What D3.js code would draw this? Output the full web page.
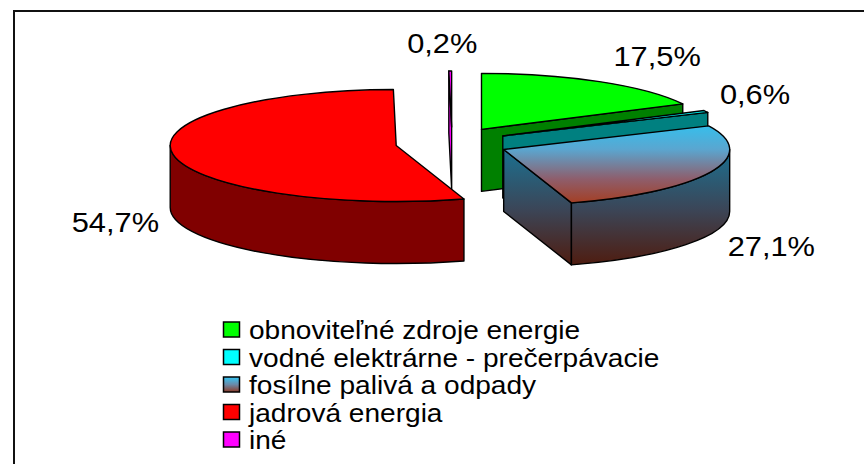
<!DOCTYPE html>
<html><head><meta charset="utf-8">
<script src="https://cdn.jsdelivr.net/npm/d3@7"></script>
<style>html,body{margin:0;padding:0;background:#fff;} svg{display:block;}</style>
</head><body>
<svg id="chart" width="864" height="464"></svg>
<script>
// ---- data ----
const categories = ["obnoviteľné zdroje energie", "vodné elektrárne - prečerpávacie", "fosílne palivá a odpady", "jadrová energia", "iné"];
const values = [17.5, 0.6, 27.1, 54.7, 0.2];
const valueLabels = ["17,5%", "0,6%", "27,1%", "54,7%", "0,2%"];

// ---- styles ----
const topColor = d3.scaleOrdinal().domain(categories).range(["#00FF00", "#00FFFF", "url(#fosTop)", "#FF0000", "#FF00FF"]);
const sideColor = d3.scaleOrdinal().domain(categories).range(["#008000", "#008080", "url(#fosSide)", "#800000", "#FF00FF"]);
const legendColor = d3.scaleOrdinal().domain(categories).range(["#00FF00", "#00FFFF", "url(#fosLeg)", "#FF0000", "#FF00FF"]);

const svg = d3.select("#chart");
const FONT = "'Liberation Sans', Arial, sans-serif";

const defs = svg.append("defs");
function vgrad(id, units, y1, y2, stops) {
  const g = defs.append("linearGradient").attr("id", id).attr("gradientUnits", units)
    .attr("x1", 0).attr("x2", 0).attr("y1", y1).attr("y2", y2);
  stops.forEach(s => g.append("stop").attr("offset", s[0]).attr("stop-color", s[1]));
}
vgrad("fosTop", "userSpaceOnUse", 112, 205, [[0, "#22CCFB"], [0.4, "#5AA6D0"], [0.72, "#8E5E6C"], [1, "#A63C1E"]]);
vgrad("fosSide", "userSpaceOnUse", 150, 268, [[0, "#1B7090"], [0.5, "#3B4658"], [1, "#501A0C"]]);
vgrad("fosLeg", "objectBoundingBox", 0, 1, [[0, "#33C8F6"], [0.5, "#6A8AA8"], [1, "#8E3A26"]]);

// frame
svg.append("rect").attr("x", 14).attr("y", 11).attr("width", 880).attr("height", 480)
  .attr("fill", "#fff").attr("stroke", "#111").attr("stroke-width", 2);

// ---- 3D pie geometry ----
const cx = 452, cy = 143, rx = 226, ry = 56, depth = 62, exX = 56.5, exY = 16;
const arcs = d3.pie().sort(null).value(d => d)(values).map((p, i) => {
  const mid = (p.startAngle + p.endAngle) / 2;
  return {
    i, cat: categories[i], label: valueLabels[i],
    a0: p.startAngle, a1: p.endAngle, mid,
    c: [cx + Math.sin(mid) * exX, cy - Math.cos(mid) * exY]
  };
});
const pt = (c, a, dy = 0) => [c[0] + rx * Math.sin(a), c[1] - ry * Math.cos(a) + dy];
const f = p => p[0].toFixed(2) + "," + p[1].toFixed(2);

const pieG = svg.append("g");
const order = arcs.slice().sort((a, b) => a.c[1] - b.c[1]);

order.forEach(d => {
  const g = pieG.append("g");
  const c = d.c, cd = [c[0], c[1] + depth];
  // radial faces
  const faces = [];
  if (Math.sin(d.a0) < -1e-6) faces.push(d.a0);
  if (Math.sin(d.a1) > 1e-6) faces.push(d.a1);
  faces.forEach(a => {
    g.append("path")
      .attr("d", `M${f(c)}L${f(pt(c, a))}L${f(pt(c, a, depth))}L${f(cd)}Z`)
      .attr("fill", sideColor(d.cat)).attr("stroke", "#000").attr("stroke-width", 1.4)
      .attr("stroke-linejoin", "round");
  });
  // outer curved side
  const b0 = Math.max(d.a0, Math.PI / 2), b1 = Math.min(d.a1, 3 * Math.PI / 2);
  if (b1 > b0) {
    g.append("path")
      .attr("d", `M${f(pt(c, b0))}A${rx},${ry} 0 0 1 ${f(pt(c, b1))}L${f(pt(c, b1, depth))}A${rx},${ry} 0 0 0 ${f(pt(c, b0, depth))}Z`)
      .attr("fill", sideColor(d.cat)).attr("stroke", "#000").attr("stroke-width", 1.4)
      .attr("stroke-linejoin", "round");
  }
  // top face
  const large = (d.a1 - d.a0) > Math.PI ? 1 : 0;
  g.append("path")
    .attr("d", `M${f(c)}L${f(pt(c, d.a0))}A${rx},${ry} 0 ${large} 1 ${f(pt(c, d.a1))}Z`)
    .attr("fill", topColor(d.cat)).attr("stroke", "#000").attr("stroke-width", 1.4)
    .attr("stroke-linejoin", "round");
});

// ---- value labels ----
const SX = 1.1;
arcs.forEach(d => {
  const s = Math.sin(d.mid), co = Math.cos(d.mid);
  const e = pt(d.c, d.mid, co < 0 ? depth : 0);
  const x = e[0] + (s > 0.3 ? 14 + 8 * Math.max(0, -co) : s < -0.3 ? -14 : -8);
  const y = e[1] + (co > 0 ? -18 * co : 12 - 25 * co);
  const anchor = s > 0.3 ? "start" : s < -0.3 ? "end" : "middle";
  svg.append("g").attr("transform", `translate(${x},${y}) scale(${SX},1)`)
    .append("text").attr("x", 0).attr("y", 0)
    .attr("text-anchor", anchor)
    .attr("font-family", FONT).attr("font-size", 28).attr("fill", "#000")
    .text(d.label);
});

// ---- legend ----
const legY0 = 329.5, legStep = 27.5;
const leg = svg.append("g");
categories.forEach((cat, i) => {
  const y = legY0 + i * legStep;
  leg.append("rect").attr("x", 223.5).attr("y", y - 7.5).attr("width", 16).attr("height", 15)
    .attr("fill", legendColor(cat)).attr("stroke", "#000").attr("stroke-width", 1.5);
  leg.append("g").attr("transform", `translate(249,${y + 9.5}) scale(1.08,1)`)
    .append("text").attr("x", 0).attr("y", 0)
    .attr("font-family", FONT).attr("font-size", 26).attr("fill", "#000")
    .text(cat);
});
</script>
</body></html>
